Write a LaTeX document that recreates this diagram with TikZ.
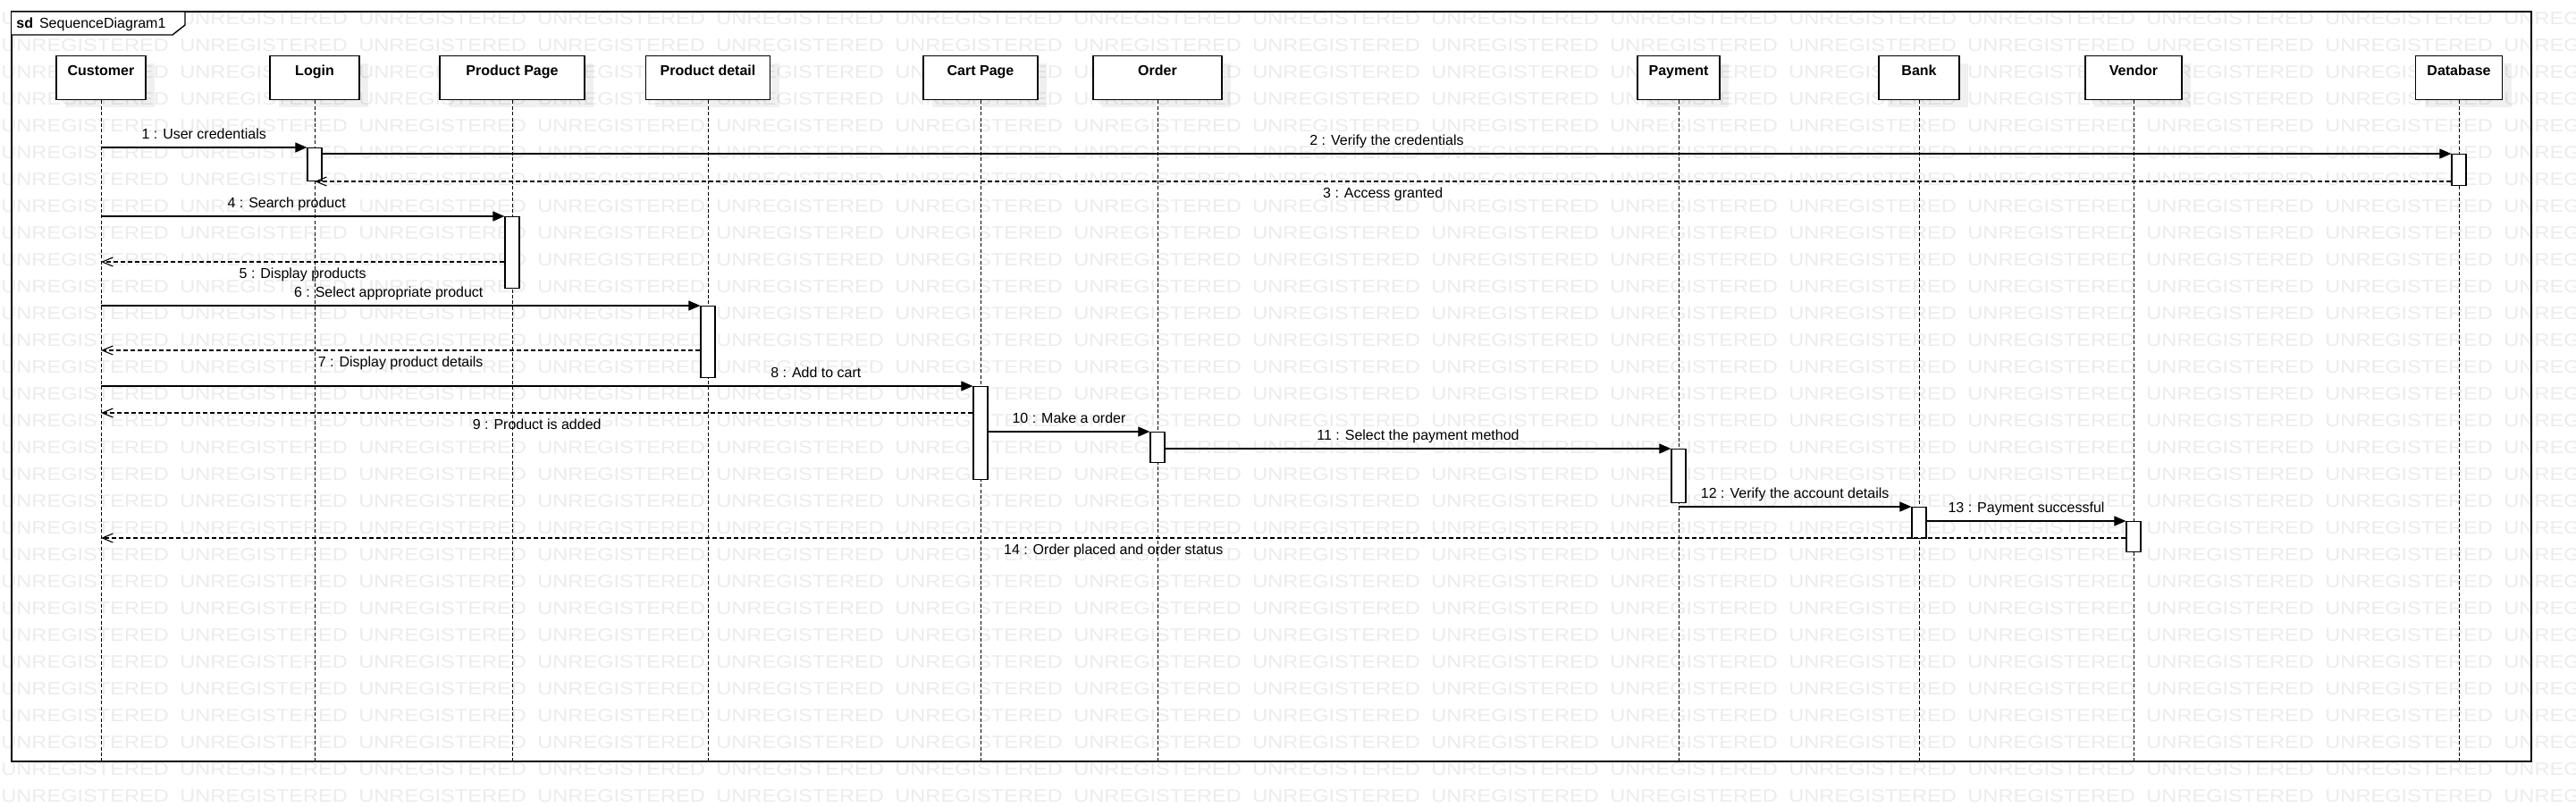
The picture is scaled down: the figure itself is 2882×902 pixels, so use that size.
\documentclass[tikz,border=0pt]{standalone}
\usepackage{fontspec}
\setmainfont{Liberation Sans}
\newfontfamily\wmfont[FakeStretch=1.18]{Liberation Sans}
\usepackage{tikz}
\usetikzlibrary{arrows.meta,shadows}
\definecolor{ink}{HTML}{000000}
\definecolor{wmark}{HTML}{ECECEC}
\newcommand{\lblsize}{\fontsize{8}{9.6}\selectfont}
\tikzset{
  wm/.style={anchor=base west, inner sep=0pt, text=wmark, font=\wmfont\fontsize{10}{12}\selectfont},
  frame/.style={draw=ink, line width=0.7pt},
  head/.style={draw=ink, line width=0.7pt, fill=white, anchor=north, minimum height=24.5pt,
    inner ysep=0pt, text height=10.75pt, text depth=13.75pt, font=\lblsize\bfseries,
    drop shadow={shadow xshift=5pt, shadow yshift=-4pt, fill=black, opacity=0.06}},
  life/.style={draw=ink, line width=0.5pt, dash pattern=on 2pt off 1.2pt},
  act/.style={draw=ink, line width=0.6pt, fill=white, anchor=north, minimum width=8pt, inner sep=0pt},
  call/.style={draw=ink, line width=0.55pt, -{Triangle[length=6.5pt, width=5.5pt]}},
  reply/.style={draw=ink, line width=0.55pt, dash pattern=on 2.5pt off 1.5pt, -{Straight Barb[length=6pt, width=5pt]}},
  msg/.style={font=\lblsize, inner sep=0pt, text=ink},
  lblup/.style={anchor=base, yshift=4.75pt},
  lbldown/.style={anchor=base, yshift=-9pt},
}

\begin{document}
\begin{tikzpicture}[x=0.5pt, y=-0.5pt]
  \path[use as bounding box, fill=white] (0,0) rectangle (2882,902);

  % watermark rows
  \foreach \r in {0,...,29}
    \foreach \c in {0,...,14}
      \node[wm] (wm-\r-\c) at (1+200*\c, 27.5+30*\r) {UNREGISTERED};

  % frame
  \draw[frame] (13,13) rectangle (2832,852);
  \draw[frame, fill=white] (13,13) -- (207,13) -- (207,28) -- (193,39) -- (13,39);
  \node[msg, anchor=base west] (title) at (18,31) {\textbf{sd}\hspace{3.5pt}SequenceDiagram1};
  \coordinate (fbot) at (0,852);

  % lifeline heads
  \foreach \n/\x/\w/\t in {cust/113/50/Customer, login/352/50/Login, ppage/573/81/Product Page,
      pdetail/792/69.5/Product detail, cart/1097/64/Cart Page, order/1295/72/Order,
      pay/1878/46/Payment, bank/2147/45/Bank, vendor/2387/54/Vendor, db/2751/48.5/Database}
    \node[head, minimum width=\w pt] (\n) at (\x,62) {\t};

  \foreach \n in {cust,login,ppage,pdetail,cart,order,pay,bank,vendor,db}
    \draw[life] (\n.south) -- (\n.south |- fbot);

  % activations
  \node[act, minimum height=18.5pt] (aLogin) at (login |- 0,165) {};
  \node[act, minimum height=17.5pt] (aDB) at (db |- 0,172) {};
  \node[act, minimum height=40pt] (aPP) at (ppage |- 0,242) {};
  \node[act, minimum height=40pt] (aPD) at (pdetail |- 0,342) {};
  \node[act, minimum height=52pt] (aCart) at (cart |- 0,432) {};
  \node[act, minimum height=17pt] (aOrder) at (order |- 0,483) {};
  \node[act, minimum height=30pt] (aPay) at (pay |- 0,502) {};
  \node[act, minimum height=17.5pt] (aBank) at (bank |- 0,567) {};
  \node[act, minimum height=17pt] (aVen) at (vendor |- 0,583) {};

  \coordinate (r3) at (aDB.west |- 0,203);
  \coordinate (r5) at (aPP.west |- 0,293);
  \coordinate (r7) at (aPD.west |- 0,392);
  \coordinate (r9) at (aCart.west |- 0,462);
  \coordinate (r14) at (aVen.west |- 0,602);

  % messages
  \draw[call] (aLogin.north west -| cust) -- (aLogin.north west)
    node[msg, lblup, midway] {1 : User credentials};
  \draw[call] (aDB.north west -| aLogin.east) -- (aDB.north west)
    node[msg, lblup, midway] {2 : Verify the credentials};
  \draw[reply] (r3) -- (r3 -| login)
    node[msg, lbldown, midway] {3 : Access granted};
  \draw[call] (aPP.north west -| cust) -- (aPP.north west)
    node[msg, lblup, pos=0.46] {4 : Search product};
  \draw[reply] (r5) -- (r5 -| cust)
    node[msg, lbldown, midway] {5 : Display products};
  \draw[call] (aPD.north west -| cust) -- (aPD.north west)
    node[msg, lblup, pos=0.48] {6 : Select appropriate product};
  \draw[reply] (r7) -- (r7 -| cust)
    node[msg, lbldown, midway] {7 : Display product details};
  \draw[call] (aCart.north west -| cust) -- (aCart.north west)
    node[msg, lblup, pos=0.82] {8 : Add to cart};
  \draw[reply] (r9) -- (r9 -| cust)
    node[msg, lbldown, midway] {9 : Product is added};
  \draw[call] (aOrder.north west -| aCart.east) -- (aOrder.north west)
    node[msg, lblup, midway] {10 : Make a order};
  \draw[call] (aPay.north west -| aOrder.east) -- (aPay.north west)
    node[msg, lblup, midway] {11 : Select the payment method};
  \draw[call] (aBank.north west -| pay) -- (aBank.north west)
    node[msg, lblup, midway] {12 : Verify the account details};
  \draw[call] (aVen.north west -| aBank.east) -- (aVen.north west)
    node[msg, lblup, midway] {13 : Payment successful};
  \draw[reply] (r14) -- (r14 -| cust)
    node[msg, lbldown, midway] {14 : Order placed and order status};
\end{tikzpicture}
\end{document}
